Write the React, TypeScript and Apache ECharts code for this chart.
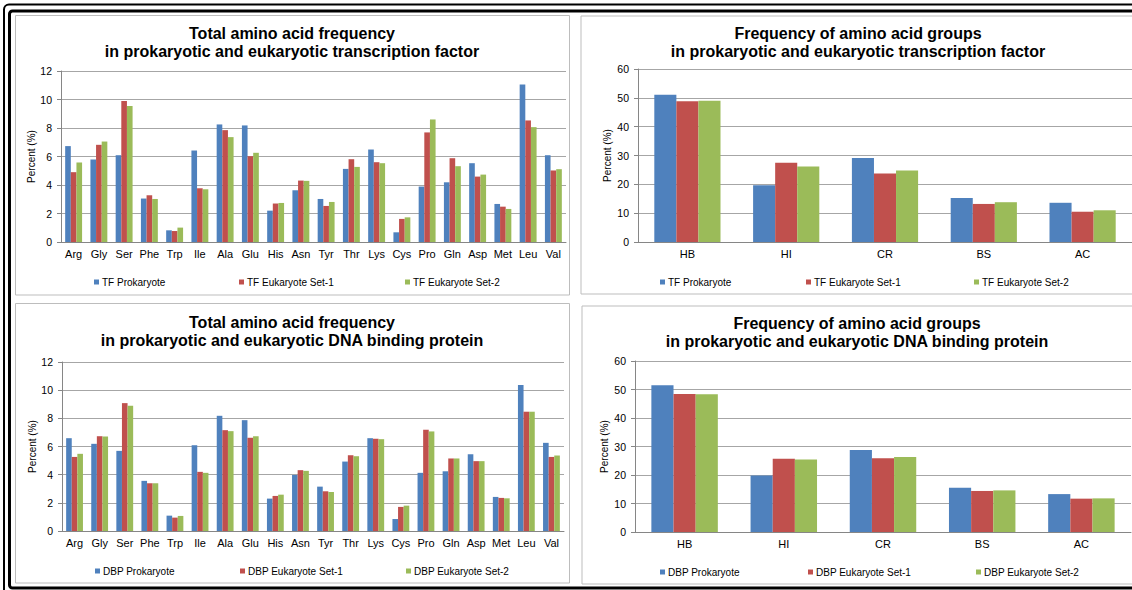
import React, { useEffect, useRef } from "react";
import * as echarts from "echarts";

// Amino acids and amino acid groups on the category axes
const aminoAcids = ["Arg", "Gly", "Ser", "Phe", "Trp", "Ile", "Ala", "Glu", "His", "Asn", "Tyr", "Thr", "Lys", "Cys", "Pro", "Gln", "Asp", "Met", "Leu", "Val"];
const aaGroups = ["HB", "HI", "CR", "BS", "AC"];

// Transcription factor: per-residue frequency (%)
const tfProkaryote = [6.73, 5.79, 6.09, 3.05, 0.82, 6.42, 8.25, 8.18, 2.2, 3.63, 3.02, 5.13, 6.49, 0.68, 3.89, 4.19, 5.53, 2.67, 11.06, 6.09];
const tfEukaryote1 = [4.9, 6.82, 9.89, 3.28, 0.77, 3.77, 7.85, 6.02, 2.7, 4.31, 2.53, 5.81, 5.6, 1.62, 7.69, 5.88, 4.59, 2.48, 8.53, 5.02];
const tfEukaryote2 = [5.58, 7.05, 9.54, 3.02, 1.01, 3.7, 7.36, 6.26, 2.74, 4.29, 2.81, 5.27, 5.53, 1.73, 8.6, 5.32, 4.73, 2.32, 8.06, 5.11];

// DNA binding protein: per-residue frequency (%)
const dbpProkaryote = [6.59, 6.19, 5.69, 3.56, 1.09, 6.09, 8.18, 7.87, 2.3, 3.98, 3.15, 4.93, 6.59, 0.85, 4.13, 4.24, 5.45, 2.42, 10.36, 6.26];
const dbpEukaryote1 = [5.26, 6.73, 9.08, 3.39, 0.95, 4.2, 7.16, 6.62, 2.49, 4.32, 2.82, 5.38, 6.55, 1.71, 7.19, 5.15, 4.96, 2.35, 8.47, 5.26];
const dbpEukaryote2 = [5.48, 6.71, 8.89, 3.39, 1.07, 4.13, 7.09, 6.73, 2.58, 4.27, 2.77, 5.31, 6.52, 1.8, 7.07, 5.15, 4.96, 2.32, 8.47, 5.36];

// Group frequencies (%)
const tfGroupProkaryote = [51.1, 19.7, 29.1, 15.3, 13.6];
const tfGroupEukaryote1 = [48.8, 27.5, 23.8, 13.2, 10.5];
const tfGroupEukaryote2 = [49.0, 26.2, 24.8, 13.8, 11.0];
const dbpGroupProkaryote = [51.5, 19.8, 28.8, 15.5, 13.3];
const dbpGroupEukaryote1 = [48.4, 25.7, 25.9, 14.4, 11.7];
const dbpGroupEukaryote2 = [48.3, 25.4, 26.3, 14.6, 11.8];

const tfNames = ["TF Prokaryote", "TF Eukaryote Set-1", "TF Eukaryote Set-2"];
const dbpNames = ["DBP Prokaryote", "DBP Eukaryote Set-1", "DBP Eukaryote Set-2"];

const COLORS = ["#4F81BD", "#C0504D", "#9BBB59"];
const FONT = "'Liberation Sans', Arial, sans-serif";

export default function App() {
  const ref = useRef<HTMLDivElement>(null);

  useEffect(() => {
    if (!ref.current) return;
    const chart = echarts.init(ref.current, null, { renderer: "svg" });

    const grids = [
      { left: 61, top: 71, width: 505, height: 171 },
      { left: 638, top: 69, width: 494, height: 173 },
      { left: 62, top: 362, width: 502, height: 169 },
      { left: 635, top: 361, width: 496, height: 171 },
    ];

    const xAxis = [aminoAcids, aaGroups, aminoAcids, aaGroups].map((cats, i) => ({
      type: "category",
      gridIndex: i,
      data: cats,
      axisLine: { lineStyle: { color: "#868686", width: 1 } },
      axisTick: { show: false },
      axisLabel: { color: "#000", fontSize: 11, fontFamily: FONT, margin: 6, interval: 0 },
    }));

    const yMax = [12, 60, 12, 60];
    const yGap = [22, 26, 22, 26];
    const yAxis = yMax.map((m, i) => ({
      type: "value",
      gridIndex: i,
      min: 0,
      max: m,
      interval: m / 6,
      name: "Percent (%)",
      nameLocation: "middle",
      nameGap: yGap[i],
      nameTextStyle: { color: "#000", fontSize: 10, fontFamily: FONT },
      axisLine: { show: true, lineStyle: { color: "#868686", width: 1 } },
      axisTick: { show: true, length: 4, lineStyle: { color: "#868686" } },
      axisLabel: { color: "#000", fontSize: 10.5, fontFamily: FONT, margin: 9 },
      splitLine: { show: true, lineStyle: { color: "#a6a6a6", width: 1 } },
    }));

    const panelData = [
      { names: tfNames, data: [tfProkaryote, tfEukaryote1, tfEukaryote2] },
      { names: tfNames, data: [tfGroupProkaryote, tfGroupEukaryote1, tfGroupEukaryote2] },
      { names: dbpNames, data: [dbpProkaryote, dbpEukaryote1, dbpEukaryote2] },
      { names: dbpNames, data: [dbpGroupProkaryote, dbpGroupEukaryote1, dbpGroupEukaryote2] },
    ];

    const series: any[] = [];
    panelData.forEach((p, gi) => {
      p.data.forEach((vals, si) => {
        series.push({
          type: "bar",
          name: p.names[si],
          xAxisIndex: gi,
          yAxisIndex: gi,
          data: vals,
          barGap: "0%",
          barCategoryGap: "33%",
          itemStyle: { color: COLORS[si] },
        });
      });
    });

    const titleStyle = { color: "#000", fontSize: 16, fontWeight: "bold", fontFamily: FONT, lineHeight: 18 };
    const title = [
      { text: "Total amino acid frequency\nin prokaryotic and eukaryotic transcription factor", left: 292, top: 24 },
      { text: "Frequency of amino acid groups\nin prokaryotic and eukaryotic transcription factor", left: 858, top: 24 },
      { text: "Total amino acid frequency\nin prokaryotic and eukaryotic DNA binding protein", left: 292, top: 313 },
      { text: "Frequency of amino acid groups\nin prokaryotic and eukaryotic DNA binding protein", left: 857, top: 314 },
    ].map((t) => ({ ...t, textAlign: "center", padding: 0, textStyle: titleStyle }));

    // One legend entry per box so every entry keeps its own place
    const legendSpots = [
      { names: tfNames, lefts: [94, 239, 405], top: 277 },
      { names: tfNames, lefts: [660, 806, 974], top: 277 },
      { names: dbpNames, lefts: [95, 240, 406], top: 566 },
      { names: dbpNames, lefts: [660, 808, 976], top: 567 },
    ];
    const legend: any[] = [];
    legendSpots.forEach((l) => {
      l.names.forEach((n, i) => {
        legend.push({
          data: [{ name: n, icon: "rect", itemStyle: { color: COLORS[i] } }],
          left: l.lefts[i],
          top: l.top,
          padding: 0,
          itemWidth: 5,
          itemHeight: 5,
          selectedMode: false,
          textStyle: { color: "#000", fontSize: 10, fontFamily: FONT, padding: [0, 0, 0, -2] },
        });
      });
    });

    const panelBorder = { stroke: "#bdbdbd", lineWidth: 1, fill: "none" };
    const graphic = [
      { type: "rect", shape: { x: 4, y: 4.5, width: 1160, height: 600, r: 5 }, style: { stroke: "#000", lineWidth: 2, fill: "none" }, silent: true },
      { type: "rect", shape: { x: 9.5, y: 11, width: 1150, height: 577, r: 3 }, style: { stroke: "#000", lineWidth: 3, fill: "none" }, silent: true },
      { type: "rect", shape: { x: 15.5, y: 15.5, width: 554, height: 279.5 }, style: panelBorder, silent: true },
      { type: "rect", shape: { x: 581, y: 16, width: 560, height: 278 }, style: panelBorder, silent: true },
      { type: "rect", shape: { x: 15.5, y: 303.5, width: 554, height: 279.5 }, style: panelBorder, silent: true },
      { type: "rect", shape: { x: 582, y: 306, width: 560, height: 278 }, style: panelBorder, silent: true },
    ];

    chart.setOption({
      animation: false,
      backgroundColor: "#fff",
      title,
      legend,
      grid: grids,
      xAxis,
      yAxis,
      series,
      graphic,
    });

    return () => chart.dispose();
  }, []);

  return (
    <div
      ref={ref}
      style={{ position: "absolute", left: 0, top: 0, width: 1132, height: 590, background: "#fff" }}
    />
  );
}
